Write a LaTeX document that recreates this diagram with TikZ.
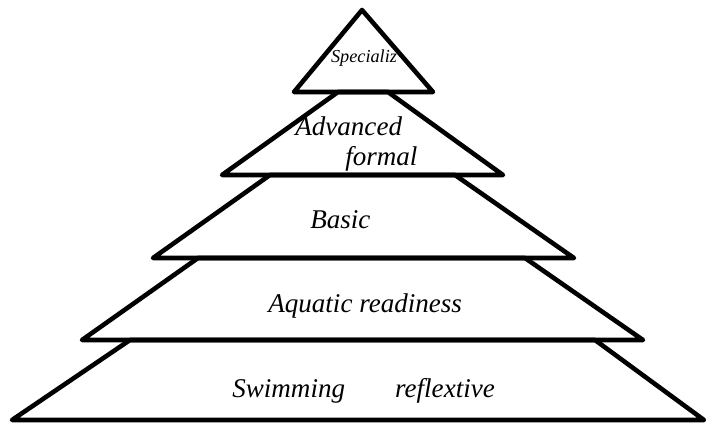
\documentclass[tikz,border=0pt]{standalone}
\usepackage{fontspec}
\setmainfont{Liberation Serif}
\tikzset{
  layer/.style={line width=2.6pt, line join=round},
  tag/.style={font=\fontsize{15.4}{18}\selectfont\itshape, inner sep=0pt, anchor=base west},
}
\begin{document}
\begin{tikzpicture}[x=0.02cm, y=-0.02cm]
            \useasboundingbox (0,0) rectangle (706,424);
            \draw[layer] (294,92) -- (362,10) -- (433,92) -- cycle;
            
            \foreach \tl/\tr/\ty/\bl/\br/\by in {338/388/92/222/503/175, 270/455/175/153/574/258, 198/525/258/82/643/340, 130/595/340/12/704/420}
                \draw[layer] (\tl,\ty) -- (\tr,\ty) -- (\br,\by) -- (\bl,\by) -- cycle;
            
            \node[tag, font=\fontsize{10.4}{12}\selectfont\itshape, anchor=base] (spec) at (364,62) {Specializ};
            \node[tag] (adv) at (295,135) {Advanced};
            \node[tag] (formal) at (345,165) {formal};
            \node[tag] (basic) at (310,228) {Basic};
            \node[tag] (aqua) at (268,312) {Aquatic readiness};
            \node[tag] (swim) at (232,397) {Swimming\hspace{1.85em}reflextive};
        \end{tikzpicture}
\end{document}
